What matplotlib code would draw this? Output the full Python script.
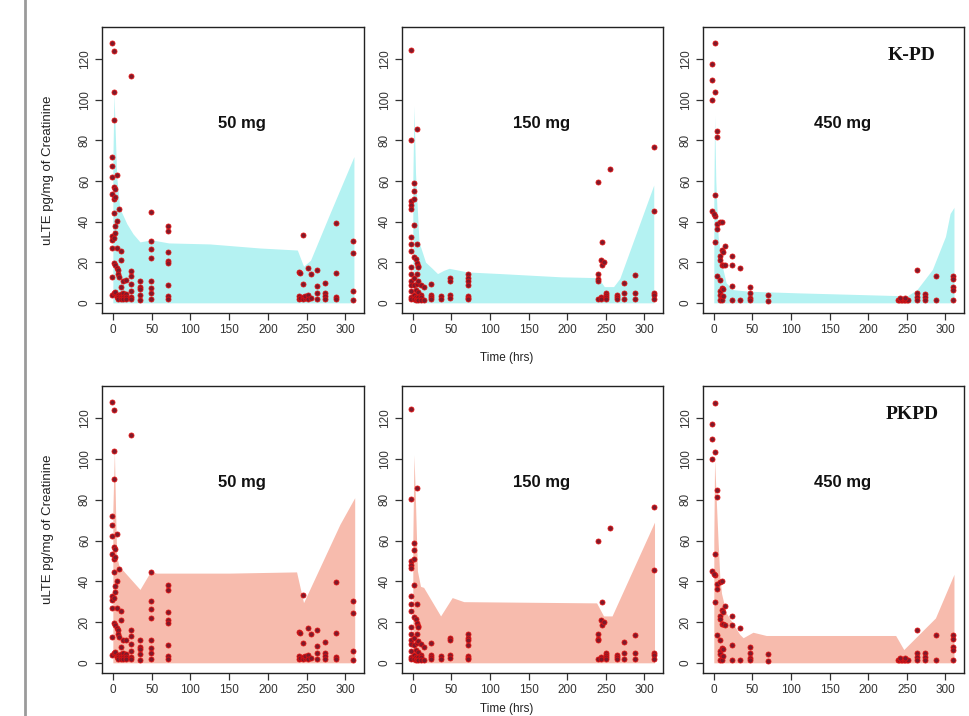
import matplotlib
matplotlib.use("Agg")
import matplotlib.pyplot as plt
from matplotlib.lines import Line2D

# ---- observed uLTE (pg/mg of creatinine) by dose ----
t_50 = ([-1] * 10 + [2] * 9 + [3] * 6 + [5] * 5 + [7] * 5 + [8] * 2 + [10] * 6
        + [13] * 4 + [17] * 4 + [23] + [24] * 6 + [35] * 5 + [49] * 8 + [71] * 8
        + [240] * 3 + [242] * 2 + [245] * 4 + [248] * 2 + [252] * 3 + [256] * 2
        + [264] * 4 + [274] * 4 + [288] * 4 + [310] * 4)
y_50 = ([128, 71.8, 67.5, 62, 53.4, 33, 31, 27, 12.6, 3.9]
        + [124, 104, 90, 57, 51, 44.4, 32, 19.5, 4.8]
        + [56, 52, 37.8, 34.6, 18.4, 5.4]
        + [63, 40.2, 27, 17, 3]
        + [16.2, 14.3, 4, 3, 2]
        + [46, 12.9]
        + [25.3, 21.2, 8, 4.5, 3, 2]
        + [11, 5, 3, 2]
        + [11.3, 4.5, 3, 2]
        + [111.6]
        + [15.9, 13, 9.4, 6, 3, 2]
        + [11, 8, 6.6, 4.1, 1.6]
        + [44.7, 30.4, 26.6, 21.9, 11, 7.3, 4.9, 2]
        + [38, 35.5, 24.9, 20.8, 19.5, 8.6, 3.3, 2]
        + [15.3, 3.5, 2] + [14.8, 2.5] + [33.4, 9.5, 3, 2] + [2.5, 3.5]
        + [17.3, 3.7, 2] + [14, 2.5] + [16.2, 8.2, 5, 2] + [10, 5, 3.5, 2]
        + [39.5, 14.5, 3, 2] + [30.5, 24.4, 5.9, 1.5])

t_150 = ([-2] * 15 + [1] * 9 + [4] * 4 + [5] * 6 + [7] * 6 + [10] * 4 + [15] * 2
         + [23] * 4 + [36] * 2 + [48] * 4 + [72] * 7
         + [240] * 5 + [244] * 3 + [245] * 2 + [247] + [250] * 4 + [256]
         + [264] * 3 + [274] * 3 + [288] * 3 + [312] * 5)
y_150 = ([124.6, 80.4, 50, 48, 46.3, 32.6, 28.9, 25.6, 17.5, 14, 11, 9, 5.9, 3, 2]
         + [59, 55.3, 51, 38.3, 22.5, 12.3, 8.7, 4, 2]
         + [21.4, 6.2, 3, 1.5]
         + [85.6, 28.9, 19.7, 14, 9.5, 2]
         + [18, 17.5, 10.6, 5.4, 3, 1.5]
         + [9, 4, 3, 1.5]
         + [8, 1.5]
         + [9.5, 4, 3, 2]
         + [3.5, 2]
         + [12, 11, 3.7, 2.5]
         + [14, 12.3, 11, 8.7, 3.5, 2.5, 2]
         + [59.7, 14, 11.5, 11, 2] + [21, 3, 2] + [30, 18.5] + [20]
         + [5, 4, 3, 2] + [66] + [4, 3, 2] + [10, 5, 2] + [13.5, 5, 2]
         + [76.6, 45.3, 5, 4, 2])

t_450 = ([1] * 5 + [-2] * 4 + [0] + [4] * 5 + [8] * 7 + [10] * 6 + [12] * 4
         + [14] * 2 + [23] * 4 + [34] * 2 + [47] * 4 + [70] * 2
         + [238, 240, 242, 244, 246, 248, 250, 252, 241, 247]
         + [263] * 4 + [274] * 3 + [288] * 2 + [310] * 5)
y_450 = ([127.7, 103.6, 53.2, 43, 29.8]
         + [117.4, 109.7, 99.9, 45]
         + [43.7]
         + [84.6, 81.5, 38.8, 36.3, 13.4]
         + [39.8, 23, 21.3, 11.1, 5.7, 4.1, 1.3]
         + [40, 26, 18.8, 7.4, 3.3, 1.3]
         + [24.9, 18.8, 7, 3.3]
         + [27.8, 18.5]
         + [23.2, 18.5, 8.5, 1.3]
         + [17, 1.3]
         + [7.9, 4.9, 2.5, 1.3]
         + [4.1, 0.8]
         + [1.6] * 8 + [2.2, 2.2]
         + [16, 4.9, 3, 1.6] + [4.6, 3, 1.6] + [13.4, 1.6]
         + [13.4, 11.5, 7.9, 6.2, 1.6])

# ---- prediction band upper limits (lower limit is 0) ----
kpd_t_50 = [0, 1.5, 3, 5, 9, 18, 26, 35, 42, 50, 72, 125, 190, 238, 246, 255, 280, 311]
kpd_u_50 = [70, 103, 85, 62, 46.5, 39, 34, 30, 30.5, 31, 29.5, 29, 27, 26, 18, 21, 44, 72]
kpd_t_150 = [0, 1.5, 3.5, 8, 16.5, 25, 32, 40, 47, 71, 114, 192, 240, 248, 260, 268, 312]
kpd_u_150 = [60, 97, 64, 30, 20, 17, 14.4, 16, 17, 15.2, 14.4, 12.8, 12.4, 8, 8, 12, 58]
kpd_t_450 = [0, 1, 2.6, 5.6, 10, 16, 25, 46, 111, 188, 235, 250, 263, 283, 300, 306, 311]
kpd_u_450 = [50, 92, 60, 32.7, 19.6, 9.8, 6.5, 5.7, 4.9, 4.1, 3.6, 3.3, 6.5, 16.4, 32.7, 44, 47]

pkpd_t_50 = [0, 2, 3.5, 5, 8, 35, 49, 56, 150, 237, 246, 293, 312]
pkpd_u_50 = [75, 104, 75, 52, 47.5, 36, 45, 44, 44, 44.6, 29.5, 68, 81]
pkpd_t_150 = [0, 1.5, 3, 6, 10, 14, 36, 51, 66, 238, 247, 258, 313]
pkpd_u_150 = [60, 102, 85, 45, 37.5, 37, 23, 32, 30, 29.4, 23, 23, 69]
pkpd_t_450 = [0, 1, 3.4, 5.6, 7.7, 10, 16, 33.5, 38, 50.7, 68, 235.5, 246, 287, 311]
pkpd_u_450 = [60, 100, 78, 59, 42.6, 34, 24.5, 14, 12.3, 15, 13.4, 13.4, 6.5, 22, 43.4]

dose_labels = ["50 mg", "150 mg", "450 mg"]
row_labels = ["K-PD", "PKPD"]
x_ticks = [0, 50, 100, 150, 200, 250, 300]
y_ticks = [0, 20, 40, 60, 80, 100, 120]

obs = [(t_50, y_50), (t_150, y_150), (t_450, y_450)]
bands = [
    [(kpd_t_50, kpd_u_50), (kpd_t_150, kpd_u_150), (kpd_t_450, kpd_u_450)],
    [(pkpd_t_50, pkpd_u_50), (pkpd_t_150, pkpd_u_150), (pkpd_t_450, pkpd_u_450)],
]
band_colors = ["#b4f2f2", "#f7bbad"]

W, H = 969, 716
fig = plt.figure(figsize=(W / 100, H / 100), dpi=100)
plt.rcParams["font.family"] = ["Liberation Sans", "DejaVu Sans"]

col_left = [102, 402, 703]
col_width = [262, 261, 261]
row_top = [27, 386]
row_height = [286, 287]

for r in range(2):
    for c in range(3):
        ax = fig.add_axes([col_left[c] / W, 1 - (row_top[r] + row_height[r]) / H,
                           col_width[c] / W, row_height[r] / H])
        bt, bu = bands[r][c]
        ax.fill_between(bt, [0] * len(bu), bu, color=band_colors[r], lw=0, zorder=1)
        t, y = obs[c]
        ax.scatter(t, y, s=13, facecolor="#801a2a", edgecolor="#e01212",
                   linewidth=0.6, zorder=3)
        ax.set_xlim(-14, 324)
        ax.set_ylim(-5, 135.8)
        ax.set_xticks(x_ticks)
        ax.set_yticks(y_ticks)
        ax.tick_params(direction="out", length=5, width=0.9, color="#333333",
                       labelsize=8.5, labelcolor="#333333", pad=3)
        for lab in ax.get_yticklabels():
            lab.set_rotation(90)
            lab.set_va("center")
        for sp in ax.spines.values():
            sp.set_color("#222222")
            sp.set_linewidth(1.0)
        ax.text(0.534, 0.664, dose_labels[c], transform=ax.transAxes,
                ha="center", va="center", fontsize=12, fontweight="bold",
                color="#111111")
        if c == 2:
            ax.text(0.80, 0.902, row_labels[r], transform=ax.transAxes,
                    ha="center", va="center", fontsize=14, fontweight="bold",
                    family="Liberation Serif", color="#111111")

# shared axis labels
for yc in [0.7626, 0.2605]:
    fig.text(48 / W, yc, "uLTE pg/mg of Creatinine", rotation=90,
             ha="center", va="center", fontsize=9.5, color="#222222")
fig.text(507 / W, 1 - 358 / H, "Time (hrs)", ha="center", va="center",
         fontsize=8.5, color="#222222")
fig.text(507 / W, 1 / H, "Time (hrs)", ha="center", va="bottom",
         fontsize=8.5, color="#222222")

# grey frame line at the left edge of the screenshot
fig.add_artist(Line2D([25 / W, 25 / W], [0, 1], color="#9a9a9a", linewidth=2))

fig.savefig("out.png", dpi=100)
